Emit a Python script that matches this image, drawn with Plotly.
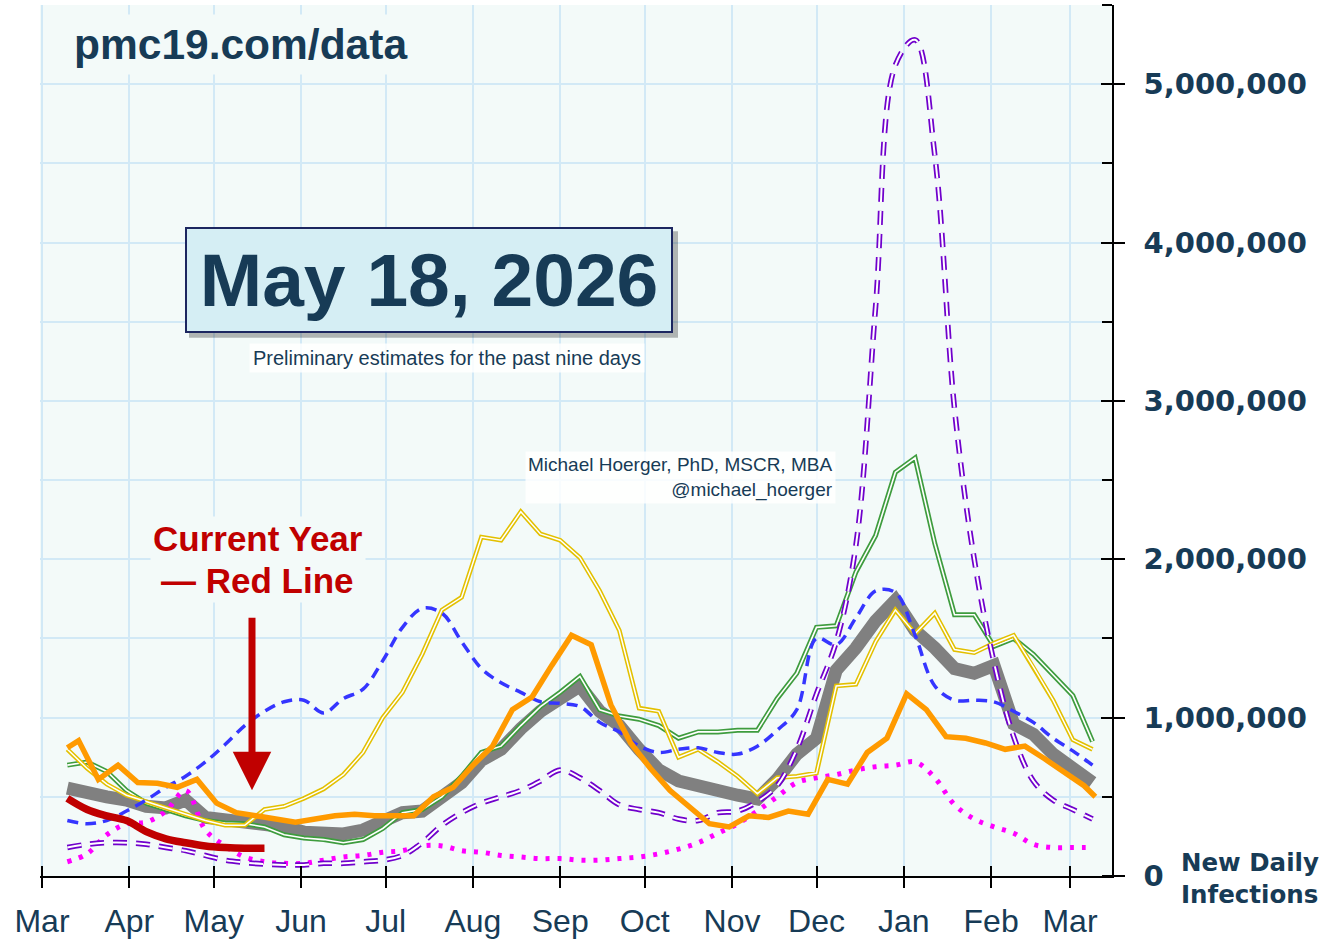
import pandas as pd
import plotly.graph_objects as go

# ---------------- data (values in millions of new daily infections) ----------------
week_dates = pd.date_range("2025-03-10", periods=53, freq="7D")
orange_dates = ([pd.Timestamp("2025-03-10")]
                + list(pd.date_range("2025-03-14", periods=52, freq="7D"))
                + [pd.Timestamp("2026-03-10")])

gray_mean = [0.555, 0.52, 0.50, 0.48, 0.44, 0.43, 0.48, 0.37, 0.354, 0.34,
             0.33, 0.31, 0.277, 0.266, 0.266, 0.29, 0.34, 0.40, 0.41, 0.50,
             0.59, 0.73, 0.80, 0.93, 1.04, 1.12, 1.20, 1.04, 0.95, 0.80,
             0.67, 0.60, 0.58, 0.54, 0.51, 0.486, 0.61, 0.77, 0.87, 1.30,
             1.44, 1.61, 1.74, 1.55, 1.44, 1.31, 1.28, 1.33, 0.96, 0.895,
             0.77, 0.675, 0.59]

green_year = [0.70, 0.72, 0.66, 0.54, 0.46, 0.42, 0.38, 0.35, 0.335, 0.33,
              0.31, 0.26, 0.24, 0.23, 0.21, 0.23, 0.30, 0.40, 0.42, 0.50,
              0.63, 0.78, 0.82, 0.95, 1.07, 1.16, 1.26, 1.05, 1.01, 0.99,
              0.95, 0.87, 0.91, 0.91, 0.92, 0.92, 1.12, 1.28, 1.57, 1.58,
              1.92, 2.15, 2.55, 2.64, 2.10, 1.65, 1.65, 1.45, 1.50, 1.40,
              1.27, 1.14, 0.85]

yellow_year = [0.80, 0.68, 0.58, 0.51, 0.47, 0.43, 0.39, 0.35, 0.32, 0.32,
               0.42, 0.44, 0.49, 0.55, 0.64, 0.78, 1.00, 1.16, 1.40, 1.68,
               1.76, 2.14, 2.12, 2.30, 2.16, 2.12, 2.01, 1.80, 1.55, 1.06,
               1.04, 0.75, 0.80, 0.72, 0.63, 0.52, 0.62, 0.63, 0.65, 1.20,
               1.21, 1.48, 1.68, 1.53, 1.66, 1.43, 1.41, 1.47, 1.52, 1.32,
               1.11, 0.86, 0.80]

blue_year = [0.35, 0.33, 0.35, 0.41, 0.48, 0.56, 0.63, 0.72, 0.83, 0.95,
             1.04, 1.10, 1.11, 1.03, 1.12, 1.18, 1.36, 1.57, 1.69, 1.66,
             1.48, 1.31, 1.22, 1.16, 1.10, 1.09, 1.07, 0.97, 0.91, 0.82,
             0.78, 0.80, 0.81, 0.78, 0.77, 0.82, 0.92, 1.05, 1.50, 1.46,
             1.63, 1.80, 1.79, 1.52, 1.20, 1.11, 1.11, 1.10, 1.04, 0.97,
             0.87, 0.79, 0.70]

purple_year = [0.18, 0.20, 0.21, 0.21, 0.20, 0.18, 0.16, 0.13, 0.10, 0.085,
               0.075, 0.07, 0.07, 0.08, 0.08, 0.09, 0.10, 0.13, 0.21, 0.32,
               0.40, 0.46, 0.50, 0.54, 0.60, 0.67, 0.62, 0.54, 0.45, 0.42,
               0.40, 0.36, 0.35, 0.40, 0.41, 0.47, 0.57, 0.80, 1.15, 1.48,
               2.09, 3.60, 5.12, 5.28, 4.55, 2.95, 2.00, 1.35, 0.88, 0.60,
               0.48, 0.42, 0.36]

magenta_year = [0.09, 0.14, 0.26, 0.33, 0.34, 0.41, 0.54, 0.29, 0.19, 0.12,
                0.09, 0.08, 0.08, 0.10, 0.12, 0.13, 0.15, 0.16, 0.19, 0.19,
                0.16, 0.15, 0.13, 0.12, 0.11, 0.11, 0.10, 0.10, 0.11, 0.12,
                0.14, 0.17, 0.21, 0.27, 0.33, 0.41, 0.50, 0.59, 0.62, 0.64,
                0.67, 0.69, 0.70, 0.72, 0.62, 0.45, 0.36, 0.31, 0.27, 0.20,
                0.18, 0.18, 0.18]

orange_year = [0.81, 0.855, 0.61, 0.70, 0.59, 0.585, 0.56, 0.61, 0.46, 0.40,
               0.38, 0.36, 0.34, 0.36, 0.38, 0.39, 0.38, 0.38, 0.38, 0.50,
               0.56, 0.70, 0.82, 1.05, 1.13, 1.33, 1.52, 1.46, 1.08, 0.84,
               0.68, 0.54, 0.43, 0.33, 0.31, 0.38, 0.37, 0.41, 0.39, 0.61,
               0.58, 0.78, 0.87, 1.15, 1.05, 0.88, 0.87, 0.84, 0.80, 0.82,
               0.74, 0.66, 0.57, 0.50]

red_current = [0.49, 0.42, 0.38, 0.35, 0.28, 0.235, 0.21, 0.19, 0.18, 0.175, 0.175]

month_ticks = list(pd.date_range("2025-03-01", periods=13, freq="MS"))
month_labels = ["Mar", "Apr", "May", "Jun", "Jul", "Aug", "Sep", "Oct", "Nov",
                "Dec", "Jan", "Feb", "Mar"]
y_ticks = [0, 1_000_000, 2_000_000, 3_000_000, 4_000_000, 5_000_000]

M = 1_000_000
def mil(v):
    return [x * M for x in v]

NAVY = "#173B56"
PLOT_BG = "#F3FAF9"
GRID = "#D2E9F6"

fig = go.Figure()

def line(x, y, color, width, dash=None, shape="linear"):
    fig.add_trace(go.Scatter(x=x, y=mil(y), mode="lines",
                             line=dict(color=color, width=width, dash=dash, shape=shape),
                             hoverinfo="skip", showlegend=False))

line(week_dates, gray_mean, "#808080", 13)
line(week_dates, magenta_year, "#FF00FF", 5, "4px,8px", "spline")
line(week_dates, green_year, "#3E9C3E", 5)
line(week_dates, green_year, "white", 1.6)
line(week_dates, yellow_year, "#E3C000", 4.6)
line(week_dates, yellow_year, "white", 1.5)
line(week_dates, blue_year, "#3535FF", 3.5, "11px,7px", "spline")
line(week_dates, purple_year, "#7000CC", 5.5, "14px,9px", "spline")
line(week_dates, purple_year, "white", 2.0, "14px,9px", "spline")
line(orange_dates, orange_year, "#FF9A00", 5.5)
line(week_dates[:len(red_current)], red_current, "#C00000", 7.5, None, "spline")

# invisible helper so the overlay axes (crossing tick marks) are drawn
fig.add_trace(go.Scatter(x=[month_ticks[0]], y=[0], xaxis="x2", yaxis="y2",
                         mode="markers", marker=dict(opacity=0), hoverinfo="skip",
                         showlegend=False))

xr = ["2025-02-28 07:00", "2026-03-15 22:00"]
yr = [0, 5.5 * M]

fig.update_layout(
    width=1332, height=944,
    margin=dict(l=40, r=220, t=5, b=65),
    paper_bgcolor="white", plot_bgcolor=PLOT_BG,
    showlegend=False, hovermode=False,
    xaxis=dict(type="date", range=xr, tickvals=month_ticks, ticktext=month_labels,
               ticks="outside", ticklen=10, tickwidth=1.5, tickcolor="black",
               showline=True, linecolor="black", linewidth=1.5,
               showgrid=True, gridcolor=GRID, gridwidth=1.5, zeroline=False,
               tickfont=dict(family="Liberation Sans, Arial", size=32, color=NAVY),
               ticklabelstandoff=6),
    xaxis2=dict(type="date", range=xr, overlaying="x", anchor="y", side="bottom",
                tickvals=month_ticks, ticks="inside", ticklen=10, tickwidth=1.5,
                tickcolor="black", showticklabels=False, showgrid=False,
                showline=False, zeroline=False),
    yaxis=dict(range=yr, side="right", tickvals=y_ticks, tickformat=",",
               ticks="outside", ticklen=11, tickwidth=1.5, tickcolor="black",
               showline=True, linecolor="black", linewidth=1.5,
               showgrid=True, gridcolor=GRID, gridwidth=1.5, zeroline=False,
               minor=dict(dtick=500000, tick0=0, ticks="inside", ticklen=10,
                          tickwidth=1.5, tickcolor="black",
                          showgrid=True, gridcolor=GRID, gridwidth=1.5),
               tickfont=dict(family="DejaVu Sans", size=29, color=NAVY,
                             weight="bold"),
               ticklabelstandoff=13),
    yaxis2=dict(range=yr, overlaying="y", side="right", anchor="x",
                tickvals=y_ticks, ticks="inside", ticklen=11, tickwidth=1.5,
                tickcolor="black", showticklabels=False, showgrid=False,
                showline=False, zeroline=False),
)

def px_x(px):
    return (px - 40) / 1072.0

def px_y(py):
    return (879 - py) / 874.0

# shadow behind the date box
fig.add_shape(type="rect", xref="paper", yref="paper",
              x0=px_x(189), x1=px_x(678), y0=px_y(339), y1=px_y(232),
              fillcolor="rgba(0,0,0,0.28)", line=dict(width=0), layer="above")

C = dict(xref="paper", yref="paper", showarrow=False, xanchor="center",
         yanchor="middle")
ann = []
ann.append(dict(C, text="<b>pmc19.com/data</b>", x=px_x(240.5), y=px_y(45),
                font=dict(family="Liberation Sans, Arial", size=42.5, color=NAVY),
                bgcolor=PLOT_BG, borderpad=6))
ann.append(dict(C, text="<b>May 18, 2026</b>", x=px_x(429), y=px_y(281),
                width=484, height=102, borderpad=0,
                font=dict(family="Liberation Sans, Arial", size=75, color=NAVY),
                bgcolor="#D5EEF4", bordercolor="#1C2660", borderwidth=2))
ann.append(dict(C, text="Preliminary estimates for the past nine days",
                x=px_x(447), y=px_y(359),
                font=dict(family="Liberation Sans, Arial", size=20, color=NAVY),
                bgcolor="rgba(255,255,255,0.85)", borderpad=3))
ann.append(dict(C, text="Michael Hoerger, PhD, MSCR, MBA<br>@michael_hoerger",
                x=px_x(836), y=px_y(479), xanchor="right", align="right",
                font=dict(family="Liberation Sans, Arial", size=19, color=NAVY),
                bgcolor="rgba(255,255,255,0.85)", borderpad=2))
ann.append(dict(C, text="<b>Current Year</b>", x=px_x(258), y=px_y(540),
                font=dict(family="Liberation Sans, Arial", size=35, color="#C00000"),
                bgcolor=PLOT_BG, borderpad=2))
ann.append(dict(C, text="<b>— Red Line</b>", x=px_x(257), y=px_y(582),
                font=dict(family="Liberation Sans, Arial", size=35, color="#C00000"),
                bgcolor=PLOT_BG, borderpad=2))
ann.append(dict(text="", x=px_x(252), y=px_y(793), xref="paper", yref="paper",
                showarrow=True, ax=0, ay=-174, axref="pixel", ayref="pixel",
                arrowhead=2, arrowsize=1.1, arrowwidth=7, arrowcolor="#C00000",
                standoff=0))
ann.append(dict(C, text="<b>New Daily<br>Infections</b>", x=px_x(1179), y=px_y(882),
                xanchor="left", align="left",
                font=dict(family="DejaVu Sans", size=24.5, color=NAVY)))
fig.update_layout(annotations=ann)

fig.write_html("out.html",
               config={"displayModeBar": False},
               post_script="document.body.style.margin='0';"
                           "document.body.style.padding='0';")
